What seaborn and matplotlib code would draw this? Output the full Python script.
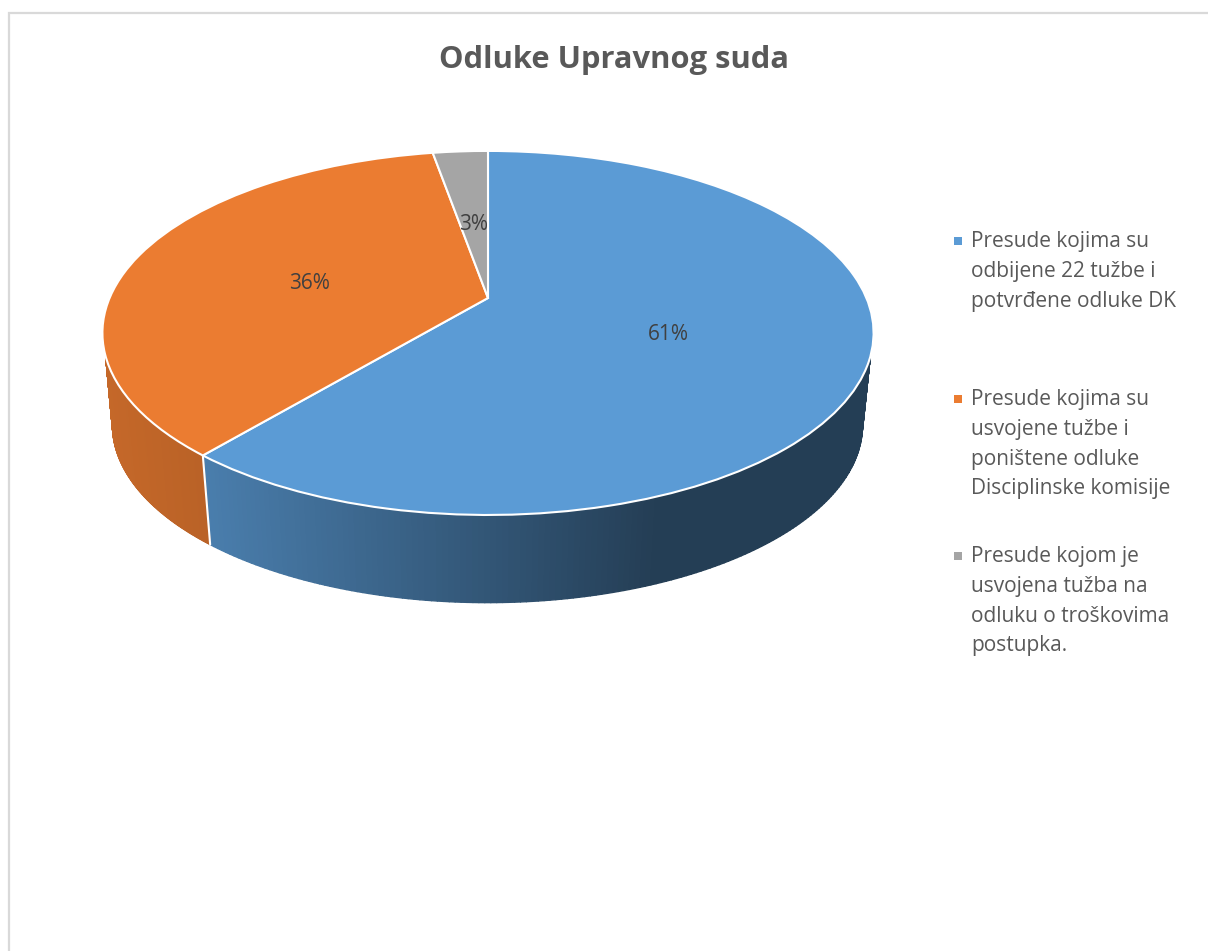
import numpy as np
import matplotlib
matplotlib.use("Agg")
import matplotlib.pyplot as plt
import seaborn as sns
from matplotlib.collections import PolyCollection
from matplotlib.transforms import Affine2D, Transform

# ---- data ----
TITLE = "Odluke Upravnog suda"
CATEGORIES = [
    "Presude kojima su\nodbijene 22 tužbe i\npotvrđene odluke DK",
    "Presude kojima su\nusvojene tužbe i\nponištene odluke\nDisciplinske komisije",
    "Presude kojom je\nusvojena tužba na\nodluku o troškovima\npostupka.",
]
COUNTS = [22, 13, 1]
COLORS = ["#5B9BD5", "#EB7C31", "#A5A5A5"]

TEXT_COLOR = "#595959"
LABEL_COLOR = "#404040"
FONT = "Open Sans"


class Perspective(Transform):
    """tilted disc: unit circle -> pixel coordinates"""
    input_dims = 2
    output_dims = 2

    def __init__(self, cx, cy, rx, ry, tilt=0.192):
        super().__init__()
        self.cx, self.cy, self.rx, self.ry, self.tilt = cx, cy, rx, ry, tilt

    def transform_non_affine(self, values):
        x, y = np.asarray(values).T
        w = 1 + self.tilt * y
        return np.column_stack([self.cx + self.rx * x / w, self.cy - self.ry * y / w])


def wall_shade(name_idx, x):
    # side of the disc gets darker towards the right
    if name_idx == 0:
        return np.clip(0.81 - 0.41 * (x - 211) / 439, 0.40, 0.81)
    return np.clip(0.84 - 0.05 * (x - 110) / 100, 0.78, 0.84)


sns.set_theme(style="white")
plt.rcParams["font.family"] = [FONT, "DejaVu Sans"]

fig, ax = plt.subplots(figsize=(12.08, 9.51), dpi=100)
fig.subplots_adjust(0, 0, 1, 1)

top = Perspective(488, 298, 378.4, 175.3)
low = Perspective(487.5, 391, 368, 171)

wedges, _, autotexts = ax.pie(
    COUNTS, colors=sns.color_palette(COLORS), startangle=90, counterclock=False,
    autopct="%.0f%%", pctdistance=0.49,
    wedgeprops=dict(edgecolor="white", linewidth=1.5, zorder=5),
    textprops=dict(color=LABEL_COLOR, fontsize=15, zorder=6),
)
ax.set_aspect("auto")
ax.set_xlim(0, 1208)
ax.set_ylim(951, 0)
ax.set_position([0, 0, 1, 1])
ax.set_axis_off()

for w in wedges:
    w.set_transform(top + ax.transData)
# small nudges of the labels, in pixels
for t, (dx, dy) in zip(autotexts, [(0, -6), (-4, -7), (0, -5)]):
    t.set_transform(top + ax.transData + Affine2D().translate(dx, dy))

# side wall, cut at the same angles as the wedges
for i, w in enumerate(wedges):
    a, b = max(w.theta1, -169), min(w.theta2, -11)
    if a >= b:
        continue
    th = np.linspace(a, b, 160)
    # upper edge of the wall starts a bit below the widest point of the disc
    th_up = np.radians(np.clip(th, -161.6, -18.4))
    th_lo = np.radians(th)
    p_top = top.transform(np.column_stack([np.cos(th_up), np.sin(th_up)]))
    p_low = low.transform(np.column_stack([np.cos(th_lo), np.sin(th_lo)]))
    quads, cols = [], []
    base = np.array(matplotlib.colors.to_rgb(COLORS[i]))
    for j in range(len(th) - 1):
        quads.append([p_top[j], p_top[j + 1], p_low[j + 1], p_low[j]])
        cols.append(base * wall_shade(i, p_low[j][0]))
    ax.add_collection(PolyCollection(quads, facecolors=cols, edgecolors=cols, linewidths=1.0, zorder=2))

    # white seam where two slices meet on the front
    if -169 < w.theta1 < -11:
        ax.plot([p_top[0][0], p_low[0][0]], [p_top[0][1], p_low[0][1]], color="white", lw=1.5, zorder=3)

# chart frame
ax.plot([9, 9, 1208], [951, 13, 13], color="#D9D9D9", lw=1.6, zorder=1, solid_joinstyle="miter")

ax.text(614, 60, TITLE, ha="center", va="center", fontsize=22.2, fontweight="bold", color=TEXT_COLOR)

# legend
legend_top = [231, 389, 546]
for y, lab, col in zip(legend_top, CATEGORIES, COLORS):
    ax.text(971, y, lab, ha="left", va="top", fontsize=15, color=TEXT_COLOR, linespacing=1.55)
    ax.scatter([958], [y + 9.5], marker="s", s=28, color=col, linewidths=0)

fig.savefig("out.png", dpi=100)
